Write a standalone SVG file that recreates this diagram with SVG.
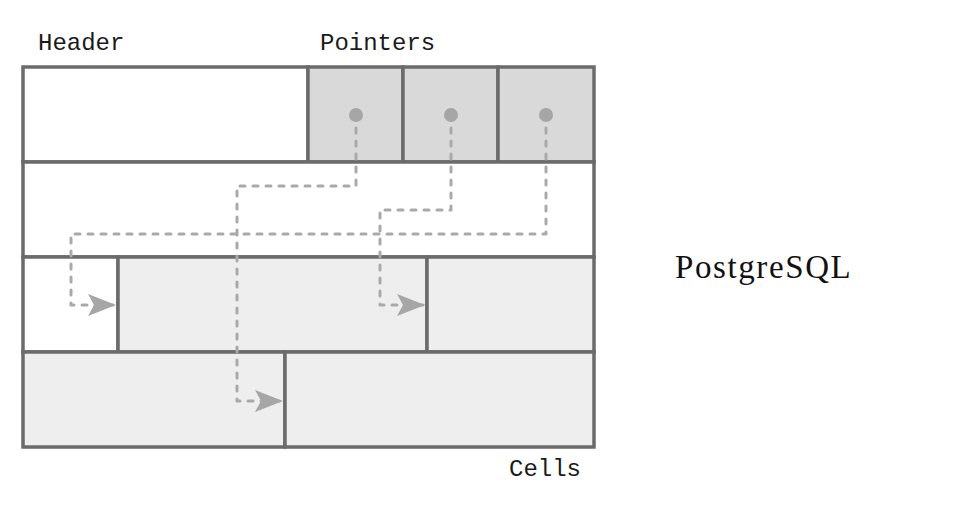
<svg xmlns="http://www.w3.org/2000/svg" width="968" height="517" viewBox="0 0 968 517">
<style>
.cell{stroke:#6b6b6b;stroke-width:3.5}
.w{fill:#ffffff}.g{fill:#eeeeee}.p{fill:#d9d9d9}
.mono{font-family:"Liberation Mono","DejaVu Sans Mono",monospace;font-size:24px;fill:#1a1a1a}
.con{fill:none;stroke:#a9a9a9;stroke-width:3;stroke-dasharray:5 8;stroke-linecap:round;stroke-linejoin:round}
.dot{fill:#a6a6a6}
</style>
<defs>
<marker id="arr" markerUnits="userSpaceOnUse" markerWidth="32" markerHeight="24" refX="30" refY="12" orient="auto">
<path d="M30,12 L2,1 L8,12 L2,23 Z" fill="#a6a6a6"/>
</marker>
</defs>
<rect width="968" height="517" fill="#ffffff"/>
<g id="header"><rect class="cell w" x="23" y="67" width="285" height="95"/></g>
<g id="ptr1"><rect class="cell p" x="308" y="67" width="95" height="95"/></g>
<g id="ptr2"><rect class="cell p" x="403" y="67" width="95" height="95"/></g>
<g id="ptr3"><rect class="cell p" x="498" y="67" width="96" height="95"/></g>
<g id="free"><rect class="cell w" x="23" y="162" width="571" height="95"/></g>
<g id="cellA"><rect class="cell w" x="23" y="257" width="95" height="95"/></g>
<g id="cellB"><rect class="cell g" x="118" y="257" width="309" height="95"/></g>
<g id="cellC"><rect class="cell g" x="427" y="257" width="167" height="95"/></g>
<g id="cellD"><rect class="cell g" x="23" y="352" width="262" height="95"/></g>
<g id="cellE"><rect class="cell g" x="285" y="352" width="309" height="95"/></g>
<g id="connectors">
<path class="con" d="M356,115 V186 H237 V401 H283" marker-end="url(#arr)"/>
<path class="con" d="M451,115 V210 H380 V305 H425" marker-end="url(#arr)"/>
<path class="con" d="M546,115 V234 H71 V305 H116" marker-end="url(#arr)"/>
<circle class="dot" cx="356" cy="115" r="7"/>
<circle class="dot" cx="451" cy="115" r="7"/>
<circle class="dot" cx="546" cy="115" r="7"/>
</g>
<g id="labels">
<text class="mono" x="38" y="50">Header</text>
<text class="mono" x="320" y="50">Pointers</text>
<text class="mono" x="509" y="476">Cells</text>
<text x="675" y="278" font-family="Liberation Serif,serif" font-size="33" letter-spacing="1.6" fill="#111">PostgreSQL</text>
</g>
</svg>
